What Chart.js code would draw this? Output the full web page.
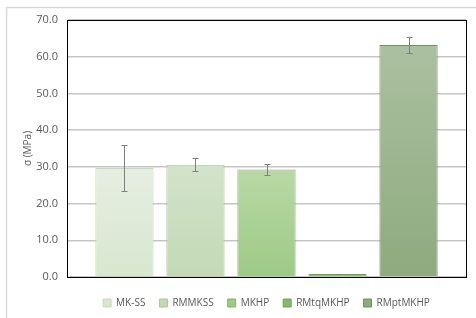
<!DOCTYPE html>
<html>
<head>
<meta charset="utf-8">
<script src="https://cdn.jsdelivr.net/npm/chart.js@4"></script>
<style>
  html, body { margin: 0; padding: 0; background: #fff; }
  #wrap { width: 476px; height: 318px; position: relative; }
</style>
</head>
<body>
<div id="wrap"><canvas id="myChart" width="476" height="318"></canvas></div>
<script>
// Серии (в Excel это одна категория с пятью рядами)
const seriesNames = ['MK-SS', 'RMMKSS', 'MKHP', 'RMtqMKHP', 'RMptMKHP'];
const meanValues = [29.7, 30.6, 29.3, 0.8, 63.2];
const errValues = [6.3, 1.7, 1.5, 0.1, 2.2];
const yTicks = [0, 10, 20, 30, 40, 50, 60, 70];

// цвета: верх градиента, низ градиента, рамка
const topColors = ['#e6eee1', '#d3e3ca', '#b9d8a6', '#93c07a', '#abc0a0'];
const bottomColors = ['#d8e7d0', '#c3d9b6', '#9dca86', '#86b86a', '#8eaa7e'];
const edgeColors = ['#c3dab6', '#a8c996', '#80b364', '#6ea352', '#6d9357'];

const textColor = '#595959';
const fontName = "'Open Sans', sans-serif";

function BarFill(i) {
	return ctx => {
		const chart = ctx.chart;
		if (ctx.raw === undefined || !chart.chartArea) return topColors[i];
		const y = chart.scales.y;
		const g = chart.ctx.createLinearGradient(0, y.getPixelForValue(ctx.raw), 0, y.getPixelForValue(0));
		g.addColorStop(0, topColors[i]);
		g.addColorStop(1, bottomColors[i]);
		return g;
	};
}

// Планки погрешностей
const errorBars = {
	id: 'errorBars',
	afterDatasetsDraw(chart) {
		const c = chart.ctx;
		const y = chart.scales.y;
		c.save();
		c.strokeStyle = '#7f7f7f';
		c.lineWidth = 1;
		chart.data.datasets.forEach((ds, i) => {
			const bar = chart.getDatasetMeta(i).data[0];
			const x = Math.round(bar.x) + 0.5;
			const top = Math.round(y.getPixelForValue(meanValues[i] + errValues[i])) + 0.5;
			const bot = Math.round(y.getPixelForValue(meanValues[i] - errValues[i])) + 0.5;
			c.beginPath();
			c.moveTo(x, top); c.lineTo(x, bot);
			c.moveTo(x - 3, top); c.lineTo(x + 3, top);
			c.moveTo(x - 3, bot); c.lineTo(x + 3, bot);
			c.stroke();
		});
		c.restore();
	}
};

// Рамки: вокруг области построения и внешняя рамка диаграммы
const frames = {
	id: 'frames',
	afterLayout(chart) {
		// легенда центрируется по области построения, как в Excel
		chart.legend.left = chart.chartArea.left;
		chart.legend.right = chart.chartArea.right;
	},
	beforeDraw(chart) {
		const c = chart.ctx;
		c.save();
		c.strokeStyle = '#d9d9d9';
		c.lineWidth = 1.5;
		c.beginPath();
		c.moveTo(6.5, chart.height);
		c.lineTo(6.5, 7.5);
		c.lineTo(chart.width, 7.5);
		c.stroke();
		c.restore();
	},
	afterDraw(chart) {
		const a = chart.chartArea;
		const c = chart.ctx;
		c.save();
		c.strokeStyle = '#000';
		c.lineWidth = 1;
		c.strokeRect(Math.round(a.left) + 0.5, Math.round(a.top) + 0.5,
			Math.round(a.right - a.left), Math.round(a.bottom - a.top));
		c.restore();
	}
};

const chart = new Chart(document.getElementById('myChart').getContext('2d'), {
	type: 'bar',
	data: {
		labels: [''],
		datasets: seriesNames.map((name, i) => ({
			label: name,
			data: [meanValues[i]],
			backgroundColor: BarFill(i),
			borderColor: edgeColors[i],
			borderWidth: 1,
			categoryPercentage: 0.89,
			barPercentage: 0.82
		}))
	},
	options: {
		responsive: false,
		animation: false,
		layout: { padding: { left: 0, top: 20, right: 10, bottom: 0 } },
		scales: {
			x: {
				grid: { display: false },
				ticks: { display: false },
				border: { color: '#000' },
				afterFit: scale => { scale.height = 7; }
			},
			y: {
				min: 0,
				max: 70,
				afterBuildTicks: scale => { scale.ticks = yTicks.map(v => ({ value: v })); },
				afterFit: scale => { scale.width = 67; },
				grid: { color: '#c6c6c6', lineWidth: 1.5, drawTicks: false },
				border: { color: '#000' },
				ticks: {
					padding: 9,
					color: textColor,
					font: { family: fontName, size: 11 },
					callback: v => v.toFixed(1)
				},
				title: {
					display: true,
					text: 'σ (MPa)',
					color: textColor,
					font: { family: fontName, size: 10 },
					padding: { top: 22, bottom: 0 }
				}
			}
		},
		plugins: {
			legend: {
				position: 'bottom',
				labels: {
					boxWidth: 8,
					boxHeight: 8,
					padding: 14,
					color: textColor,
					font: { family: fontName, size: 10 }
				}
			},
			tooltip: { enabled: false }
		}
	},
	plugins: [errorBars, frames]
});
</script>
</body>
</html>
